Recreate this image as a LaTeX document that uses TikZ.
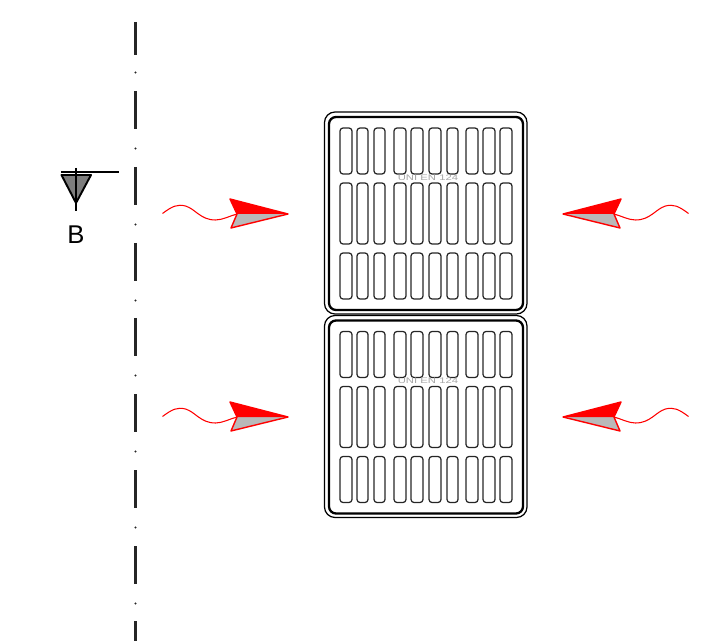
\documentclass[tikz,border=0pt]{standalone}
\usepackage{fontspec}
\setmainfont{Liberation Sans}
\definecolor{flowred}{RGB}{255,0,0}
\definecolor{flowgray}{RGB}{185,185,185}
\definecolor{markgray}{RGB}{125,125,125}
\tikzset{
    axisline/.style={line width=1.2pt,black!85},
    slotbox/.style={draw=black!85,line width=0.7pt,rounded corners=1.7pt},
    flowline/.style={red,line width=0.6pt},
    platelabel/.style={text=black!35,font=\fontsize{4.6pt}{5pt}\selectfont,xscale=1.4,inner sep=0pt}
}
% Function to draw one grate, #1 is its top edge
\newcommand{\drawgrate}[1]{
    \draw[line width=0.7pt,rounded corners=6pt] (324.5,#1) rectangle (527,#1+202);
    \draw[line width=1.3pt,rounded corners=4pt] (329,#1+5) rectangle (523,#1+198);
    \foreach \xa/\xb in {340/352,357/368,374/385,394/406,411/423,429/441,447/458,466/478,483/495,500/512} {
        \draw[slotbox] (\xa,#1+16) rectangle (\xb,#1+62);
        \draw[slotbox] (\xa,#1+71) rectangle (\xb,#1+132);
        \draw[slotbox] (\xa,#1+141) rectangle (\xb,#1+187);
    }
}
% Function to draw one flow arrow, #1 is its height, #2 is 1 or -1 for the side
\newcommand{\drawflow}[2]{
    \begin{scope}[shift={(425.5,#1)},xscale=#2]
        \fill[flowgray] (-188.5,0) -- (-137.5,0) -- (-194.5,14) -- cycle;
        \fill[flowred] (-195.5,-15) -- (-188.5,0) -- (-137.5,0) -- cycle;
        \draw[flowred,line width=0.8pt,line join=round] (-195.5,-15) -- (-137.5,0) -- (-194.5,14) -- (-188.5,0) -- cycle;
        \draw[flowline] (-263,-0.5) .. controls (-253,-8) and (-248,-10) .. (-240,-8)
            .. controls (-230,-5) and (-225,6) .. (-210,6)
            .. controls (-203,6) and (-196,2) .. (-188.5,0);
    \end{scope}
}
\begin{document}
\begin{tikzpicture}[x=0.02cm,y=-0.02cm]
    \useasboundingbox (0,0) rectangle (702,641);

    % Draw the axis line
    \draw[axisline] (135.5,22) -- (135.5,55);
    \fill[black!85] (135.5,72.5) circle (0.6pt);
    \foreach \y in {91,167,243,318,394,470,546} {
        \draw[axisline] (135.5,\y) -- (135.5,\y+38);
        \fill[black!85] (135.5,\y+57.5) circle (0.6pt);
    }
    \draw[axisline] (135.5,621) -- (135.5,641);

    % Draw the section mark
    \draw[line width=1.1pt,fill=markgray,line join=round] (61.5,175) -- (91,175) -- (76,203) -- cycle;
    \draw[line width=1.1pt] (61,172) -- (119,172);
    \draw[line width=1.1pt] (76,168) -- (76,211);
    \node[font=\fontsize{14.6pt}{16pt}\selectfont,inner sep=0pt] (sectionB) at (76,235) {B};

    % Draw the two grates
    \drawgrate{112}
    \drawgrate{315.5}
    \node[platelabel] (plateA) at (428,178) {UNI EN 124};
    \node[platelabel] (plateB) at (428,381) {UNI EN 124};

    % Draw the arrows on both sides
    \foreach \y in {214,417} {
        \drawflow{\y}{1}
        \drawflow{\y}{-1}
    }
\end{tikzpicture}
\end{document}
